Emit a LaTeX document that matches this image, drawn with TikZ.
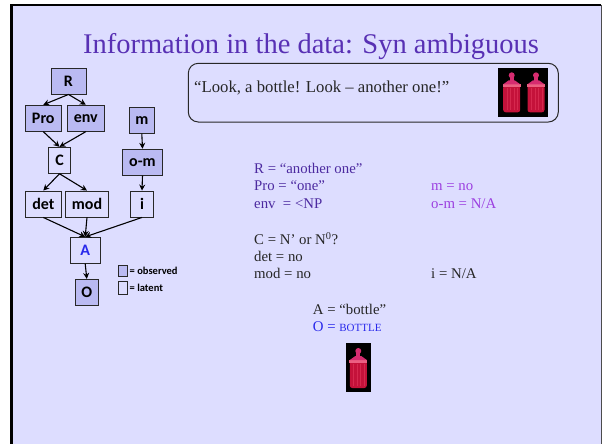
\documentclass[tikz,border=0pt]{standalone}
\usepackage{fontspec}
\setmainfont{Liberation Serif}
\newfontfamily\nodefont{Carlito}
\usetikzlibrary{arrows.meta}

\definecolor{slidebg}{RGB}{221,221,255}
\definecolor{obsfill}{RGB}{186,186,242}
\definecolor{titlecol}{RGB}{88,48,180}
\definecolor{darkpurple}{RGB}{76,42,160}
\definecolor{violet}{RGB}{156,64,224}
\definecolor{obsblue}{RGB}{40,40,235}
\definecolor{boxline}{RGB}{40,40,40}
\definecolor{bottlered}{RGB}{196,18,58}
\definecolor{bottlestripe}{RGB}{214,40,78}
\definecolor{bottlecap}{RGB}{214,44,112}
\definecolor{bottleband}{RGB}{236,96,130}

\tikzset{
  var/.style={draw=boxline, line width=0.9pt, inner sep=0pt, minimum height=26pt,
              font=\nodefont\bfseries\fontsize{16}{18}\selectfont, text=black},
  observed/.style={var, fill=obsfill},
  latent/.style={var, fill=slidebg},
  edge/.style={-{Stealth[length=6pt,width=6pt]}, line width=1.1pt, black},
  line/.style={anchor=base west, font=\fontsize{14.8}{17}\selectfont, inner sep=0pt},
  legendbox/.style={draw=boxline, line width=0.8pt, inner sep=0pt, minimum width=8.6pt},
  legendtext/.style={anchor=west, inner sep=0pt, font=\nodefont\bfseries\fontsize{10.5}{12}\selectfont},
  bottle/.pic={
    % rounded body with faint vertical stripes
    \fill[bottlered, rounded corners=2.5pt] (-8.5,0) rectangle (8.5,-27);
    \foreach \sx in {-5,-1.5,2,5.5}
      \fill[bottlestripe] (\sx,-2) rectangle (\sx+0.9,-24);
    % shoulder band, shoulder, neck and knob
    \fill[bottleband] (-9,-25) rectangle (9,-28);
    \fill[bottlecap] (-8.5,-28) -- (8.5,-28) -- (3,-32) -- (-3,-32) -- cycle;
    \fill[bottlecap] (-2,-31) rectangle (2,-35);
    \fill[bottlecap] (0,-37) circle (3);
  }
}

\begin{document}
\begin{tikzpicture}[x=1pt, y=-1pt]
\useasboundingbox (0,0) rectangle (602,444);

% slide
\fill[white] (0,0) rectangle (602,444);
\fill[slidebg] (11.5,5) rectangle (601,450);
\draw[black, line width=2.4pt] (11.5,450) -- (11.5,5) -- (601,5);
\draw[black!70, line width=0.8pt] (601,5) -- (601,450);

% title
\node[anchor=base, inner sep=0pt, text=titlecol, font=\fontsize{28.5}{32}\selectfont]
  (title) at (311,53.3) {Information in the data: Syn ambiguous};

% graphical model
\node[observed, minimum width=35pt]   (R)   at (68.5,81)    {R};
\node[observed, minimum width=36pt]   (Pro) at (43.3,118.2) {Pro};
\node[observed, minimum width=37pt]   (env) at (85.8,118.2) {env};
\node[observed, minimum width=25pt]   (m)   at (141.8,120.2) {m};
\node[latent,   minimum width=22.4pt] (C)   at (59.5,160.3) {C};
\node[observed, minimum width=39.6pt] (om)  at (142.5,162.2) {o-m};
\node[latent,   minimum width=36pt]   (det) at (43.3,204)   {det};
\node[latent,   minimum width=43.4pt] (mod) at (87,204)     {mod};
\node[latent,   minimum width=22.6pt] (i)   at (142,204)    {i};
\node[latent,   minimum width=29.7pt, text=obsblue] (A) at (85.2,250.3) {A};
\node[observed, minimum width=23pt, minimum height=25.7pt] (O) at (86.8,292.2) {O};

\draw[edge] (R.south) -- (Pro.north);
\draw[edge] (R.south) -- (env.north);
\draw[edge] (Pro.south) -- (C.north);
\draw[edge] (env.south) -- (C.north);
\draw[edge] (C.south) -- (det.north);
\draw[edge] (C.south) -- (mod.north);
\draw[edge] (m.south) -- (om.north);
\draw[edge] (om.south) -- (i.north);
\draw[edge] (det.south) -- (A.north);
\draw[edge] (mod.south) -- (A.north);
\draw[edge] (i.south) -- (A.north);
\draw[edge] (A.south) -- (O.north);

% legend
\node[legendbox, fill=obsfill, minimum height=11pt]  (legobs) at (123,270.5) {};
\node[legendbox, fill=slidebg, minimum height=12.7pt] (leglat) at (123,287.7) {};
\node[legendtext] (legobst) at (129.5,271) {= observed};
\node[legendtext] (leglatt) at (129.5,287.5) {= latent};

% utterance box
\draw[boxline, line width=1pt, rounded corners=10pt] (188.3,63.3) rectangle (558.3,122);
\node[anchor=base west, inner sep=0pt, font=\fontsize{16.7}{19}\selectfont, text=black!85]
  (utter) at (194,92.7) {“Look, a bottle! Look – another one!”};
\fill[black] (498.3,68.3) rectangle (547.7,116.7);
\pic at (511.7,112.3) {bottle};
\pic at (536,112.3) {bottle};

% variable values
\node[line, text=darkpurple] (vR)   at (254,173.3) {R = “another one”};
\node[line, text=darkpurple] (vPro) at (254,190.8) {Pro = “one”};
\node[line, text=darkpurple] (venv) at (254,208.3) {env~ = <NP};
\node[line, text=violet]     (vm)   at (431,190.8) {m = no};
\node[line, text=violet]     (vom)  at (431,208.3) {o-m = N/A};
\node[line, text=black!85]   (vC)   at (254,244.3) {C = N’ or N\textsuperscript{0}?};
\node[line, text=black!85]   (vdet) at (254,261.7) {det = no};
\node[line, text=black!85]   (vmod) at (254,278.3) {mod = no};
\node[line, text=black!85]   (vi)   at (431,278.3) {i = N/A};
\node[line, text=black!85]   (vA)   at (312.7,314.3) {A = “bottle”};
\node[line, text=obsblue]    (vO)   at (312.7,331.7) {O = {\fontsize{11}{12}\selectfont BOTTLE}};

% single bottle
\fill[black] (346,343) rectangle (371,392);
\begin{scope}[shift={(358.3,388)}, scale=0.88]
  \pic at (0,0) {bottle};
\end{scope}
\end{tikzpicture}
\end{document}
